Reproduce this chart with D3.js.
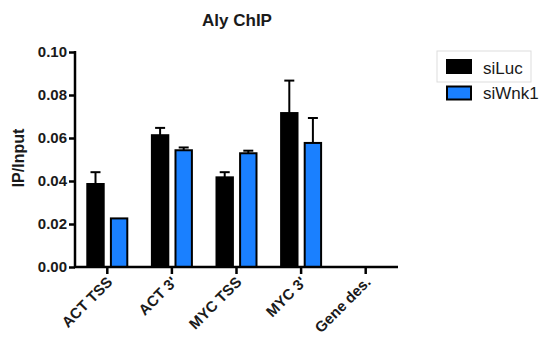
<!DOCTYPE html>
<html>
<head>
<meta charset="utf-8">
<script src="https://cdn.jsdelivr.net/npm/d3@7"></script>
<style>
  body { margin: 0; background: #fff; }
  text { font-family: "Liberation Sans", Arial, sans-serif; }
</style>
</head>
<body>
<svg id="chart" width="542" height="345"></svg>
<script>
const categories = ["ACT TSS", "ACT 3'", "MYC TSS", "MYC 3'", "Gene des."];
const seriesNames = ["siLuc", "siWnk1"];
const siLuc = [0.0386, 0.0613, 0.0417, 0.0716, 0];
const siLucErr = [0.0055, 0.0034, 0.0024, 0.0151, 0];
const siWnk1 = [0.0226, 0.0543, 0.0529, 0.0577, 0];
const siWnk1Err = [0, 0.0013, 0.0012, 0.0116, 0];
const yTicks = [0, 0.02, 0.04, 0.06, 0.08, 0.10];

const colors = ["#000000", "#1a80ff"];

const svg = d3.select("#chart");

const x = d3.scaleBand().domain(categories).range([75, 398]);
const xInner = d3.scaleBand().domain(seriesNames).range([-21, 21]).paddingInner(0.22);
const y = d3.scaleLinear().domain([0, 0.10]).range([267, 52]);

const rows = categories.map((c, i) => [
  { cat: c, s: "siLuc", v: siLuc[i], e: siLucErr[i], color: colors[0] },
  { cat: c, s: "siWnk1", v: siWnk1[i], e: siWnk1Err[i], color: colors[1] }
]).flat();

const barX = (d) => x(d.cat) + x.bandwidth() / 2 + xInner(d.s);

// Error bars (only the upper half shows)
const err = svg.append("g").attr("stroke", "#000").attr("stroke-width", 2);
rows.filter((d) => d.e > 0).forEach((d) => {
  const cx = barX(d) + xInner.bandwidth() / 2;
  err.append("line")
    .attr("x1", cx).attr("x2", cx)
    .attr("y1", y(d.v)).attr("y2", y(d.v + d.e));
  err.append("line")
    .attr("x1", cx - 5).attr("x2", cx + 5)
    .attr("y1", y(d.v + d.e)).attr("y2", y(d.v + d.e));
});

svg.append("g")
  .selectAll("rect")
  .data(rows.filter((d) => d.v > 0))
  .enter()
  .append("rect")
  .attr("x", (d) => barX(d) + 1)
  .attr("y", (d) => y(d.v))
  .attr("width", xInner.bandwidth() - 2)
  .attr("height", (d) => y(0) - y(d.v))
  .attr("fill", (d) => d.color)
  .attr("stroke", "#000")
  .attr("stroke-width", 2);

// Y axis
const yAxis = svg.append("g")
  .attr("transform", "translate(75,0)")
  .call(d3.axisLeft(y).tickValues(yTicks).tickSize(6).tickSizeOuter(0).tickFormat(d3.format(".2f")));
yAxis.select(".domain").attr("stroke-width", 2.5).attr("d", `M0,${y(0) + 1}V${y(0.10) - 1}`);
yAxis.selectAll(".tick line").attr("stroke-width", 2.5);
yAxis.selectAll(".tick text")
  .attr("x", -8)
  .attr("font-size", 15)
  .attr("font-weight", "bold")
  .attr("fill", "#1a1a1a");

// X axis
const xAxis = svg.append("g")
  .attr("transform", `translate(0,${y(0)})`)
  .call(d3.axisBottom(x).tickSize(7).tickSizeOuter(0));
xAxis.select(".domain").attr("stroke-width", 2.5).attr("d", "M74,0H398");
xAxis.selectAll(".tick line").attr("stroke-width", 2.5);
xAxis.selectAll(".tick text")
  .attr("font-size", 15)
  .attr("font-weight", "bold")
  .attr("fill", "#1a1a1a")
  .attr("text-anchor", "end")
  .attr("dy", null)
  .attr("transform", "translate(6,16) rotate(-45)")
  .attr("x", 0)
  .attr("y", 0);

// Title
svg.append("text")
  .attr("x", 237)
  .attr("y", 26)
  .attr("text-anchor", "middle")
  .attr("font-size", 17)
  .attr("font-weight", "bold")
  .attr("fill", "#1a1a1a")
  .text("Aly ChIP");

// Y label
svg.append("text")
  .attr("transform", "translate(24,158) rotate(-90)")
  .attr("text-anchor", "middle")
  .attr("font-size", 16)
  .attr("font-weight", "bold")
  .attr("fill", "#1a1a1a")
  .text("IP/Input");

// Legend
const legend = svg.append("g");
legend.append("rect")
  .attr("x", 437).attr("y", 51).attr("width", 94).attr("height", 31)
  .attr("fill", "none").attr("stroke", "#ddd").attr("stroke-width", 1);
seriesNames.forEach((s, i) => {
  legend.append("rect")
    .attr("x", 447).attr("y", 60 + i * 26.5).attr("width", 24).attr("height", 13)
    .attr("fill", colors[i]).attr("stroke", "#000").attr("stroke-width", 2);
  legend.append("text")
    .attr("x", 483).attr("y", 74 + i * 25)
    .attr("font-size", 17)
    .attr("fill", "#1a1a1a")
    .text(s);
});
</script>
</body>
</html>
